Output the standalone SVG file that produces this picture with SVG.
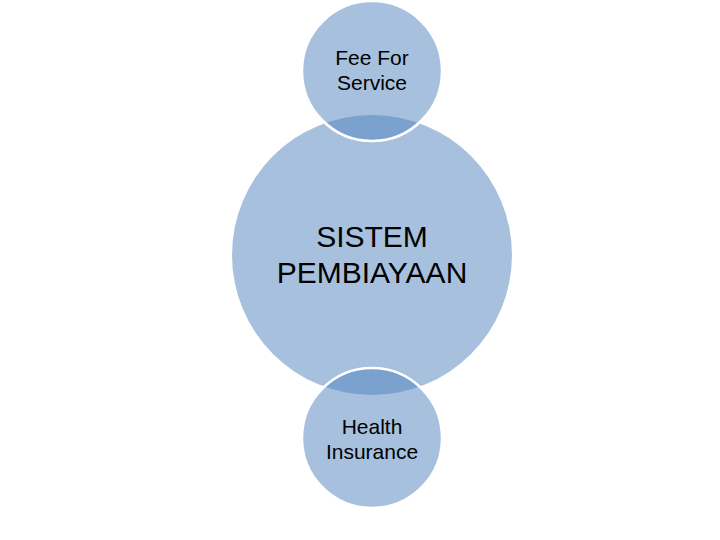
<svg xmlns="http://www.w3.org/2000/svg" width="720" height="540" viewBox="0 0 720 540">
<style>
.c{fill:#4f81bd;fill-opacity:0.5}
.s{stroke:#ffffff;stroke-width:2.5}
text{font-family:"Liberation Sans",Arial,sans-serif;fill:#000;text-anchor:middle}
.t{font-size:21px}
.b{font-size:30px}
</style>
<rect width="720" height="540" fill="#ffffff"/>
<g id="center">
<circle class="c" cx="372" cy="255" r="140"/>
<text class="b" x="372" y="247">SISTEM</text>
<text class="b" x="372" y="283">PEMBIAYAAN</text>
</g>
<g id="top">
<circle class="c s" cx="372" cy="71" r="70"/>
<text class="t" x="372" y="65">Fee For</text>
<text class="t" x="372" y="90">Service</text>
</g>
<g id="bottom">
<circle class="c s" cx="372" cy="438" r="70"/>
<text class="t" x="372" y="434">Health</text>
<text class="t" x="372" y="459">Insurance</text>
</g>
<g id="connectors"></g>
</svg>
